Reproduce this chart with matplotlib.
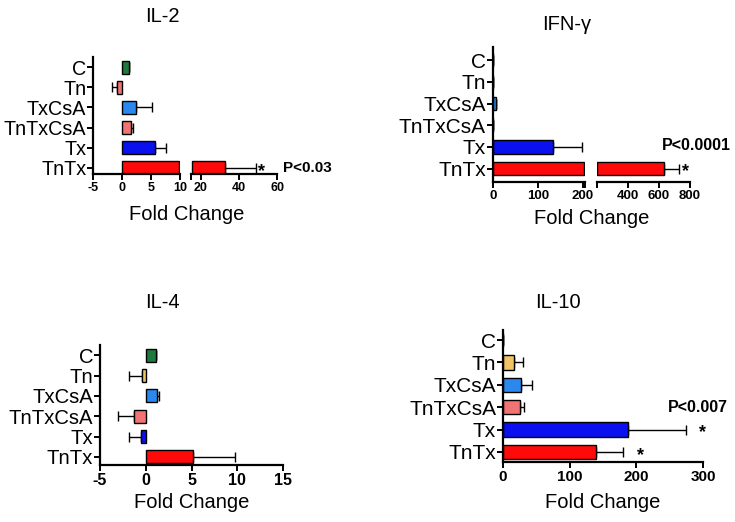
import matplotlib
matplotlib.use("Agg")
import matplotlib.pyplot as plt
import numpy as np

plt.rcParams['font.family'] = ['Liberation Sans', 'DejaVu Sans']

categories = ['C', 'Tn', 'TxCsA', 'TnTxCsA', 'Tx', 'TnTx']

il2_mean = [1.1, -0.9, 2.35, 1.45, 5.7, 32.7]
il2_err = [0.0, 0.9, 2.75, 0.35, 1.95, 16.0]

ifn_mean = [0.5, 0.5, 7.0, 1.5, 135.0, 631.0]
ifn_err = [0.0, 0.0, 0.0, 0.0, 63.0, 97.0]

il4_mean = [1.1, -0.45, 1.27, -1.27, -0.55, 5.2]
il4_err = [0.0, 1.35, 0.15, 1.75, 1.25, 4.6]

il10_mean = [0.5, 16.5, 27.5, 26.0, 187.5, 140.0]
il10_err = [0.0, 13.5, 16.0, 5.0, 87.5, 40.0]

GREEN = '#1f7a3d'
SALMON = '#f27373'
TAN = '#f2c266'
LBLUE = '#2a88ee'
BLUE = '#0a10ee'
RED = '#ff0a0a'

il2_colors = [GREEN, SALMON, LBLUE, SALMON, BLUE, RED]
ifn_colors = [GREEN, SALMON, LBLUE, SALMON, BLUE, RED]
il4_colors = [GREEN, TAN, LBLUE, SALMON, BLUE, RED]
il10_colors = [GREEN, TAN, LBLUE, SALMON, BLUE, RED]

W, H = 735, 522
fig = plt.figure(figsize=(W / 100, H / 100), dpi=100)


def rect(l, t, r, b):
    return [l / W, 1 - b / H, (r - l) / W, (b - t) / H]


def draw_bars(ax, means, errs, colors, xlim, seg):
    n = len(means)
    ypos = np.arange(n)[::-1]
    lo_lim, hi_lim = xlim
    span = hi_lim - lo_lim
    eps = span * 0.006
    if seg == 0:
        sel = list(range(n))
        widths = [min(m, hi_lim - eps) for m in means]
        lefts = [0] * n
    else:
        sel = [i for i, m in enumerate(means) if m > lo_lim]
        lefts = [lo_lim + eps] * len(sel)
        widths = [means[i] - (lo_lim + eps) for i in sel]
    cols = [colors[i] for i in sel]
    ys = ypos[sel]
    ax.barh(ys, widths, left=lefts, height=0.64, color=cols, edgecolor='black',
            linewidth=1.0, zorder=2)
    m_sel = [means[i] for i in sel]
    e_sel = [errs[i] for i in sel]
    lo = [e if m < 0 else 0 for m, e in zip(m_sel, e_sel)]
    hi = [e if m >= 0 else 0 for m, e in zip(m_sel, e_sel)]
    ax.errorbar(m_sel, ys, xerr=[lo, hi], fmt='none', ecolor='black',
                elinewidth=1.0, capsize=3.5, capthick=1.0, zorder=1)
    return ypos


def style_ax(ax, left, xsize, ysize):
    for s in ['top', 'right']:
        ax.spines[s].set_visible(False)
    ax.spines['bottom'].set_linewidth(1.6)
    if left:
        ax.spines['left'].set_linewidth(1.6)
    else:
        ax.spines['left'].set_visible(False)
        ax.tick_params(axis='y', left=False, labelleft=False)
    ax.tick_params(axis='x', which='both', direction='out', length=4, width=1.4, labelsize=xsize, pad=2)
    ax.tick_params(axis='y', direction='out', length=4, width=1.4, labelsize=ysize, pad=1)
    for lab in ax.get_xticklabels():
        lab.set_fontweight('bold')


def panel(axes_specs, means, errs, colors, ylim, xsize, ysize):
    axs = []
    nseg = len(axes_specs)
    for i, (r, xlim, ticks) in enumerate(axes_specs):
        ax = fig.add_axes(r)
        ypos = draw_bars(ax, means, errs, colors, xlim, i)
        ax.set_xlim(*xlim)
        ax.set_ylim(*ylim)
        ax.set_xticks(ticks)
        ax.set_xticklabels([str(t) for t in ticks])
        if i == 0:
            ax.set_yticks(ypos)
            ax.set_yticklabels(categories)
            if nseg > 1:
                ax.set_xticks([xlim[1]], minor=True)
        else:
            ax.set_xticks([xlim[0]], minor=True)
        style_ax(ax, i == 0, xsize, ysize)
        axs.append(ax)
    return axs


def star(ax, x, y, dx=5):
    ax.annotate('*', xy=(x, y), xytext=(dx, -2.5), textcoords='offset points',
                ha='left', va='center', fontsize=13, fontweight='bold', annotation_clip=False)


# IL-2
a1, a2 = panel([(rect(93.3, 57, 180, 174), (-5, 10), [-5, 0, 5, 10]),
                (rect(191, 57, 277.3, 174), (15, 60), [20, 40, 60])],
               il2_mean, il2_err, il2_colors, (-0.3, 5.5), 9, 14.2)
star(a2, il2_mean[5] + il2_err[5], 0, dx=2)
fig.text(162 / W, 1 - 17 / H, 'IL-2', ha='center', va='center', fontsize=14.5)
fig.text(187 / W, 1 - 215 / H, 'Fold Change', ha='center', va='center', fontsize=14.5)
fig.text(283 / W, 1 - 168 / H, 'P<0.03', ha='left', va='center', fontsize=11, fontweight='bold')

# IFN-gamma
b1, b2 = panel([(rect(492.7, 47, 585, 182), (0, 205), [0, 100, 200]),
                (rect(596.7, 47, 690, 182), (200, 800), [400, 600, 800])],
               ifn_mean, ifn_err, ifn_colors, (-0.62, 5.61), 9.5, 15)
star(b2, ifn_mean[5] + ifn_err[5], 0, dx=2)
fig.text(567 / W, 1 - 25 / H, 'IFN-γ', ha='center', va='center', fontsize=14.5)
fig.text(592 / W, 1 - 218 / H, 'Fold Change', ha='center', va='center', fontsize=14.5)
fig.text(662 / W, 1 - 145 / H, 'P<0.0001', ha='left', va='center', fontsize=11.5, fontweight='bold')

# IL-4
(c1,) = panel([(rect(100, 345, 283, 465), (-5, 15), [-5, 0, 5, 10, 15])],
              il4_mean, il4_err, il4_colors, (-0.4, 5.5), 11.5, 14.6)
fig.text(162 / W, 1 - 303 / H, 'IL-4', ha='center', va='center', fontsize=14.5)
fig.text(192 / W, 1 - 503 / H, 'Fold Change', ha='center', va='center', fontsize=14.5)

# IL-10
(d1,) = panel([(rect(503, 330, 703, 462), (0, 300), [0, 100, 200, 300])],
              il10_mean, il10_err, il10_colors, (-0.45, 5.45), 11, 15)
star(d1, il10_mean[4] + il10_err[4], 1, dx=9)
star(d1, il10_mean[5] + il10_err[5], 0, dx=10)
fig.text(558 / W, 1 - 303 / H, 'IL-10', ha='center', va='center', fontsize=14.5)
fig.text(603 / W, 1 - 503 / H, 'Fold Change', ha='center', va='center', fontsize=14.5)
fig.text(668 / W, 1 - 407 / H, 'P<0.007', ha='left', va='center', fontsize=11.5, fontweight='bold')

fig.savefig('out.png', dpi=100)
